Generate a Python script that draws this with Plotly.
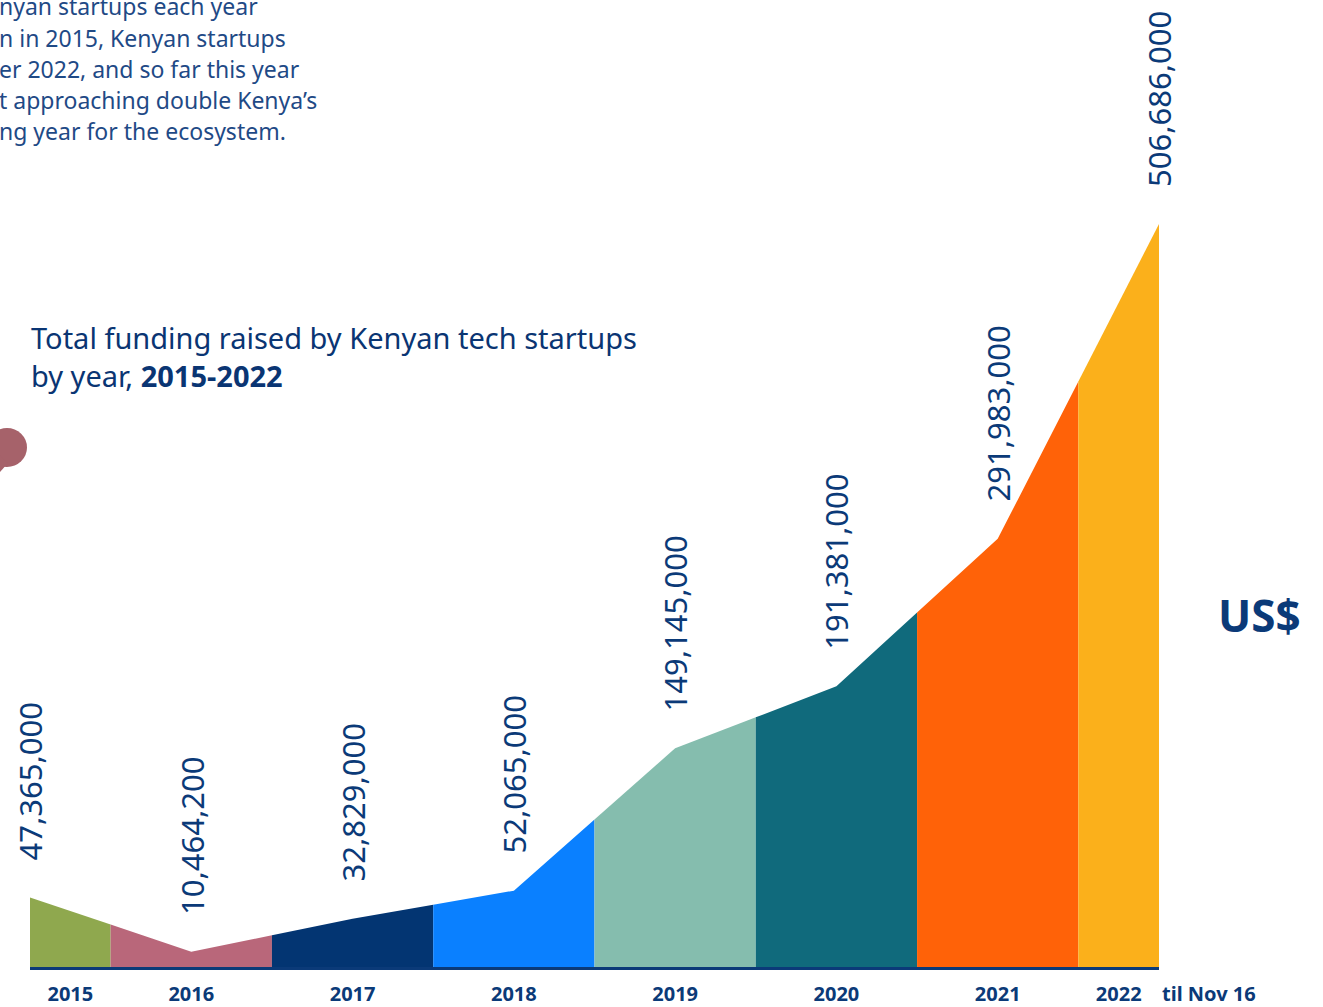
import plotly.graph_objects as go

years = ["2015", "2016", "2017", "2018", "2019", "2020", "2021", "2022"]
funding = [47365000, 10464200, 32829000, 52065000, 149145000, 191381000, 291983000, 506686000]
value_labels = ["47,365,000", "10,464,200", "32,829,000", "52,065,000",
                "149,145,000", "191,381,000", "291,983,000", "506,686,000"]
band_colors = ["#8fa84e", "#b9677a", "#033572", "#0a80ff",
               "#85bdae", "#106a7c", "#ff6208", "#fbb01b"]
paragraph_lines = ["nyan startups each year", "n in 2015, Kenyan startups",
                   "er 2022, and so far this year", "t approaching double Kenya’s",
                   "ng year for the ecosystem."]

NAVY = "#0b3a78"
FONT = "Noto Sans"
W, H = 1323, 1007
ML, MR, MT, MB = 30, 164, 0, 40
PW, PH = W - ML - MR, H - MT - MB


def px_x(p):
    return (p - ML) / PW


def px_y(p):
    return 1 - (p - MT) / PH


def interp(x):
    i = int(x)
    if i >= len(funding) - 1:
        return funding[-1]
    f = x - i
    return funding[i] * (1 - f) + funding[i + 1] * f


n = len(years)
fig = go.Figure()
for i in range(n):
    left = max(0, i - 0.5)
    right = min(n - 1, i + 0.5)
    xs, ys = [], []
    for xv in [left, i, right]:
        if xs and abs(xs[-1] - xv) < 1e-9:
            continue
        xs.append(xv)
        ys.append(interp(xv))
    fig.add_trace(go.Scatter(x=xs, y=ys, mode="lines", line=dict(width=0),
                             fill="tozeroy", fillcolor=band_colors[i],
                             hoverinfo="skip", showlegend=False))

# value labels
for i in range(n):
    fig.add_annotation(x=i, y=funding[i], text=value_labels[i], textangle=-90,
                       showarrow=False, yanchor="bottom", xanchor="center", yshift=35,
                       font=dict(family=FONT, size=31, color=NAVY))

# tick positions at band centers
tickvals = []
for i in range(n):
    left = max(0, i - 0.5)
    right = min(n - 1, i + 0.5)
    tickvals.append((left + right) / 2)

ymax = funding[-1] * PH / 743

fig.update_layout(
    width=W, height=H,
    margin=dict(l=ML, r=MR, t=MT, b=MB),
    paper_bgcolor="white", plot_bgcolor="white",
    xaxis=dict(range=[0, n - 1], showgrid=False, zeroline=False,
               showline=True, linecolor=NAVY, linewidth=3,
               tickvals=tickvals, ticktext=years, ticks="",
               tickfont=dict(family=FONT, size=20, color=NAVY, weight="bold"),
               ticklabelstandoff=7, fixedrange=True),
    yaxis=dict(range=[0, ymax], visible=False, fixedrange=True),
    showlegend=False,
)

# til Nov 16
fig.add_annotation(xref="paper", yref="paper", x=px_x(1160), y=px_y(993),
                   text="til Nov 16", showarrow=False, xanchor="left", yanchor="middle",
                   font=dict(family=FONT, size=20, color=NAVY, weight="bold"))

# Title
fig.add_annotation(xref="paper", yref="paper", x=px_x(29), y=px_y(316),
                   text="Total funding raised by Kenyan tech startups<br>by year, <b>2015-2022</b>",
                   showarrow=False, xanchor="left", yanchor="top", align="left",
                   font=dict(family=FONT, size=29, color="#0a3573"))

# Paragraph fragment (cut off at left edge)
line_centers = [6, 38, 69, 100, 131]
for txt, yc in zip(paragraph_lines, line_centers):
    fig.add_annotation(xref="paper", yref="paper", x=px_x(-3), y=px_y(yc),
                       text=txt, showarrow=False, xanchor="left", yanchor="middle",
                       align="left", font=dict(family=FONT, size=23, color="#1f4a86"))

# decorative speech-bubble dot
fig.add_shape(type="circle", xref="paper", yref="paper",
              x0=px_x(-13), x1=px_x(27), y0=px_y(467), y1=px_y(428),
              fillcolor="#a6626a", line=dict(width=0))
fig.add_shape(type="path", xref="paper", yref="paper",
              path=f"M {px_x(-4)},{px_y(452)} L {px_x(8)},{px_y(463)} L {px_x(0)},{px_y(472)} Z",
              fillcolor="#a6626a", line=dict(width=0))

# US$
fig.add_annotation(xref="paper", yref="paper", x=px_x(1259), y=px_y(615),
                   text="<b>US$</b>", showarrow=False, xanchor="center", yanchor="middle",
                   font=dict(family=FONT, size=44, color=NAVY))

fig.write_html("out.html", config={"displayModeBar": False},
               post_script="document.body.style.margin='0';")
